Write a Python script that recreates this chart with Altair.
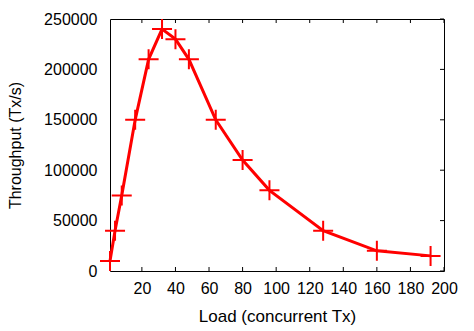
import altair as alt
import pandas as pd

# Data
loads = [1, 4, 8, 16, 24, 32, 40, 48, 64, 80, 96, 128, 160, 192]
throughput = [10000, 40000, 75000, 150000, 210000, 240000, 230000, 210000,
              150000, 110000, 80000, 40000, 20000, 15000]
x_ticks = [20, 40, 60, 80, 100, 120, 140, 160, 180, 200]
y_ticks = [0, 50000, 100000, 150000, 200000, 250000]

df = pd.DataFrame({"load": loads, "tput": throughput})
xt = pd.DataFrame({"load": x_ticks})
yt = pd.DataFrame({"tput": y_ticks})

W, H = 334, 252
FONT = "Liberation Sans"
RED = "#ff0000"

xscale = alt.Scale(domain=[1, 200], nice=False, zero=False)
yscale = alt.Scale(domain=[0, 250000], nice=False)

xaxis = alt.Axis(values=x_ticks, ticks=False, tickSize=0, domain=False, grid=False,
                 labelOverlap=False, labelFlush=False,
                 labelFontSize=16, labelFont=FONT, labelColor="#000", labelPadding=9,
                 title="Load (concurrent Tx)", titleFont=FONT, titleFontSize=17,
                 titleFontWeight="normal", titleColor="#000", titlePadding=12)
yaxis = alt.Axis(values=y_ticks, ticks=False, tickSize=0, domain=False, grid=False,
                 labelOverlap=False, labelFlush=False,
                 labelFontSize=16, labelFont=FONT, labelColor="#000", labelPadding=13,
                 format="d",
                 title="Throughput (Tx/s)", titleFont=FONT, titleFontSize=16,
                 titleFontWeight="normal", titleColor="#000", titlePadding=20)

X = alt.X("load:Q", scale=xscale, axis=xaxis)
Y = alt.Y("tput:Q", scale=yscale, axis=yaxis)

line = alt.Chart(df).mark_line(color=RED, strokeWidth=3, interpolate="linear").encode(
    x=X, y=Y,
)

pts = alt.Chart(df).mark_point(
    shape="M-1,0H1M0,-1V1", size=400, color=RED, strokeWidth=2, filled=False, opacity=1
).encode(x=X, y=Y)

bottom_ticks = alt.Chart(xt).mark_rule(color="#000", strokeWidth=1).encode(
    x=X, y=alt.value(H), y2=alt.value(H - 4),
)
top_ticks = alt.Chart(xt).mark_rule(color="#000", strokeWidth=1).encode(
    x=X, y=alt.value(0), y2=alt.value(4),
)
right_ticks = alt.Chart(yt).mark_rule(color="#000", strokeWidth=1).encode(
    y=Y, x=alt.value(W), x2=alt.value(W - 4),
)

chart = alt.layer(line, bottom_ticks, top_ticks, right_ticks, pts).properties(
    width=W, height=H,
    autosize=alt.AutoSizeParams(type="none"),
    padding={"left": 110, "top": 19, "right": 30, "bottom": 60},
    background="white",
).configure_view(stroke="#000", strokeWidth=1)

chart.save("out.html", embed_options={"renderer": "svg", "actions": False})
